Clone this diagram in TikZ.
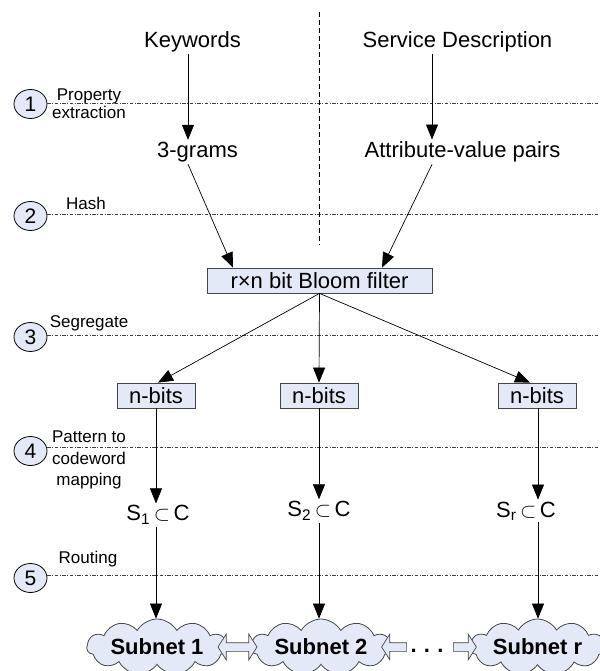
\documentclass[tikz,border=0pt]{standalone}
\usepackage{fontspec}
\setmainfont{Liberation Sans}
\usetikzlibrary{arrows.meta,shapes.symbols,shapes.arrows,shapes.geometric}

\definecolor{paleblue}{RGB}{227,233,246}
\definecolor{edgegray}{RGB}{70,70,70}

\begin{document}
\begin{tikzpicture}[x=1pt,y=-1pt,
  txt/.style={font=\fontsize{22}{26}\selectfont, inner sep=2pt},
  steplbl/.style={font=\fontsize{17}{18}\selectfont, align=center, inner sep=0pt},
  box/.style={draw=edgegray, fill=paleblue, line width=0.8pt, inner sep=0pt,
    font=\fontsize{22}{26}\selectfont},
  stepno/.style={ellipse, draw=black, fill=paleblue, line width=0.8pt,
    minimum width=33pt, minimum height=29pt, inner sep=0pt,
    font=\fontsize{21}{24}\selectfont},
  subnet/.style={cloud, cloud puffs=11, cloud puff arc=120, cloud ignores aspect,
    draw=edgegray, fill=paleblue, line width=0.8pt, minimum height=56pt,
    font=\fontsize{22}{26}\selectfont\bfseries},
  arr/.style={-{Triangle[length=15pt,width=12pt]}, line width=0.7pt},
  stage/.style={dash pattern=on 3.5pt off 1.5pt on 1pt off 1.5pt, line width=0.6pt, black!75},
  divider/.style={dash pattern=on 5pt off 3pt, line width=0.7pt},
  blockarr/.style={draw=edgegray, fill=paleblue, line width=0.7pt,
    inner xsep=0pt, inner ysep=4pt, minimum width=25pt}
]
\useasboundingbox (0,0) rectangle (599,671);

% ---- stage markers and separator lines
\coordinate (L1) at (599,103);
\coordinate (L2) at (599,214);
\coordinate (L3) at (599,335);
\coordinate (L4) at (599,447);
\coordinate (L5) at (599,575);

\node[stepno] (e1) at (30.5,104) {1};
\node[stepno] (e2) at (30.5,216) {2};
\node[stepno] (e3) at (30.5,337) {3};
\node[stepno] (e4) at (30.5,451) {4};
\node[stepno] (e5) at (30.5,578) {5};

\draw[stage] (e1.east |- L1) -- (L1);
\draw[stage] (e2.east |- L2) -- (L2);
\draw[stage] (e3.east |- L3) -- (L3);
\draw[stage] (e4.east |- L4) -- (L4);
\draw[stage] (e5.east |- L5) -- (L5);

\node[steplbl] (p1) at (89,104) {Property\\extraction};
\node[steplbl] (p2) at (86,203) {Hash};
\node[steplbl] (p3) at (89,323) {Segregate};
\node[steplbl, font=\fontsize{17}{21.5}\selectfont] (p4) at (89,460) {Pattern to\\codeword\\mapping};
\node[steplbl] (p5) at (88,559) {Routing};

% ---- vertical divider between the two inputs
\coordinate (vt) at (319,12);
\coordinate (vb) at (319,245);
\draw[divider] (vt) -- (vb);

% ---- inputs and extracted properties
\node[txt] (kw) at (192.5,42) {Keywords};
\node[txt] (sd) at (457.5,42) {Service Description};
\node[txt] (gr) at (197.5,152) {3-grams};
\node[txt] (av) at (462.5,152) {Attribute-value pairs};

\draw[arr] ([xshift=-4.5pt]kw.south) -- ([xshift=-9.5pt]gr.north);
\draw[arr] ([xshift=-25.5pt]sd.south) -- ([xshift=-30.5pt]av.north);

% ---- Bloom filter
\node[box, minimum width=225pt, minimum height=25pt] (bf) at (319.5,280.5) {r×n bit Bloom filter};

\draw[arr] ([xshift=-9.5pt]gr.south) -- ([xshift=-86.5pt]bf.north);
\draw[arr] ([xshift=-30.5pt]av.south) -- ([xshift=62.5pt]bf.north);

% ---- segments
\node[box, minimum width=78pt, minimum height=25pt] (nb1) at (156,395.5) {n-bits};
\node[box, minimum width=78pt, minimum height=25pt] (nb2) at (319,395.5) {n-bits};
\node[box, minimum width=78pt, minimum height=25pt] (nb3) at (537,395.5) {n-bits};

\draw[arr] (bf.south) -- ([xshift=2pt]nb1.north);
\draw[arr] (bf.south) -- (nb2.north);
\draw[arr] (bf.south) -- ([xshift=-7pt]nb3.north);

% ---- codeword subsets
\node[txt] (s1) at (158,515) {S\textsubscript{1}\,$\subset$\,C};
\node[txt] (s2) at (319,511) {S\textsubscript{2}\,$\subset$\,C};
\node[txt] (s3) at (526,511) {S\textsubscript{r}\,$\subset$\,C};

\draw[arr] (nb1.south) -- (nb1.south |- s1.north);
\draw[arr] (nb2.south) -- (nb2.south |- s2.north);
\draw[arr] ([xshift=1pt]nb3.south) -- ([xshift=1pt]nb3.south |- s3.north);

% ---- subnets
\node[subnet, minimum width=122pt] (c1) at (157,647) {Subnet 1};
\node[subnet, minimum width=125pt] (c2) at (321,647) {Subnet 2};
\node[subnet, minimum width=127pt] (c3) at (537.5,647) {Subnet r};

\draw[arr] (nb1.south |- s1.south) -- (nb1.south |- c1.north);
\draw[arr] (nb2.south |- s2.south) -- (nb2.south |- c2.north);
\draw[arr] ([xshift=1pt]nb3.south |- s3.south) -- ([xshift=1pt]nb3.south |- c3.north);

% ---- links between subnets
\node[blockarr, double arrow, double arrow head extend=8.5pt, double arrow tip angle=115,
  minimum height=39pt] (d12) at (237.5,647) {};
\node[blockarr, single arrow, single arrow head extend=8.5pt, single arrow tip angle=115,
  shape border rotate=180, minimum height=25pt] (la) at (395.5,647) {};
\node[font=\fontsize{22}{26}\selectfont\bfseries, inner sep=0pt] (dots) at (427,651) {.\,\,.\,\,.};
\node[blockarr, single arrow, single arrow head extend=8.5pt, single arrow tip angle=115,
  minimum height=23pt] (ra) at (463.5,647) {};
\end{tikzpicture}
\end{document}
